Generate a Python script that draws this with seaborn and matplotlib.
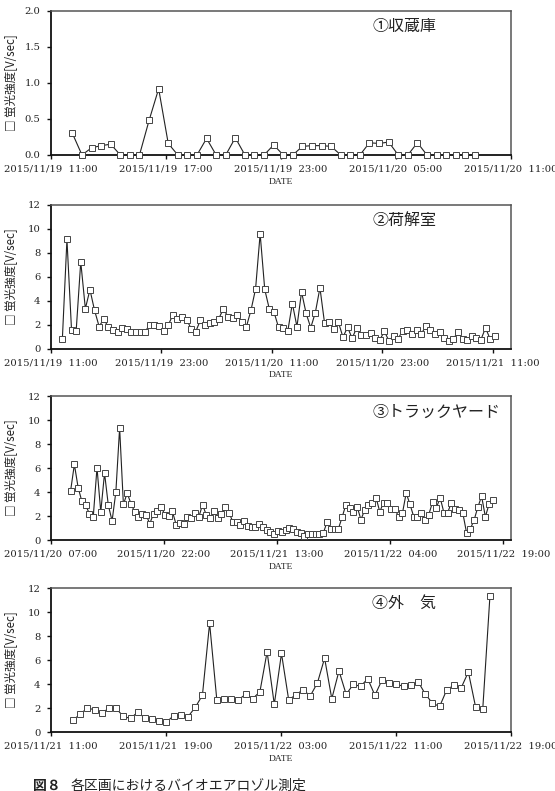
import pandas as pd
import matplotlib
matplotlib.use("Agg")
import matplotlib.pyplot as plt
import seaborn as sns

# --- data (30 min sampling) ---
p1_start = "2015-11-19 12:07"
p1_vals = [0.30, 0.00, 0.10, 0.13, 0.15, 0.00, 0.00, 0.00, 0.48, 0.92,
           0.16, 0.00, 0.00, 0.00, 0.23, 0.00, 0.00, 0.24, 0.00, 0.00,
           0.00, 0.14, 0.00, 0.00, 0.12, 0.13, 0.13, 0.12, 0.00, 0.00,
           0.00, 0.17, 0.16, 0.18, 0.00, 0.00, 0.17, 0.00, 0.00, 0.00,
           0.00, 0.00, 0.00]

p2_start = "2015-11-19 12:14"
p2_vals = [0.77, 9.09, 1.52, 1.44, 7.23, 3.32, 4.90, 3.18, 1.83, 2.46,
           1.77, 1.52, 1.35, 1.74, 1.63, 1.38, 1.38, 1.38, 1.40, 2.00,
           2.00, 1.88, 1.50, 1.94, 2.77, 2.49, 2.66, 2.41, 1.66, 1.41,
           2.35, 1.96, 2.10, 2.21, 2.49, 3.29, 2.66, 2.52, 2.83, 2.21,
           1.80, 3.18, 4.95, 9.56, 4.92, 3.28, 3.05, 1.76, 1.72, 1.43,
           3.75, 1.82, 4.71, 2.92, 1.73, 3.00, 5.06, 2.12, 2.22, 1.60,
           2.20, 0.95, 1.76, 0.86, 1.73, 1.15, 1.15, 1.33, 0.84, 0.71,
           1.42, 0.65, 1.05, 0.82, 1.49, 1.54, 1.18, 1.53, 1.18, 1.87,
           1.53, 1.24, 1.40, 0.87, 0.65, 0.82, 1.35, 0.82, 0.75, 1.08,
           0.84, 0.75, 1.71, 0.79, 1.08]

p3_start = "2015-11-20 09:36"
p3_vals = [4.10, 6.30, 4.36, 3.21, 2.90, 2.18, 1.91, 6.02, 2.34, 5.58,
           2.90, 1.59, 4.00, 9.34, 2.96, 3.90, 3.04, 2.34, 1.90, 2.17,
           2.09, 1.37, 2.19, 2.45, 2.74, 2.12, 2.02, 2.38, 1.27, 1.45,
           1.36, 1.91, 1.83, 2.28, 1.92, 2.94, 2.07, 1.84, 2.38, 1.87,
           2.13, 2.79, 2.28, 1.54, 1.52, 1.21, 1.62, 1.14, 1.08, 1.08,
           1.36, 1.10, 0.84, 0.70, 0.54, 0.74, 0.65, 0.80, 1.00, 0.95,
           0.70, 0.55, 0.35, 0.50, 0.50, 0.50, 0.50, 0.55, 1.50, 0.92,
           0.92, 0.92, 1.88, 2.95, 2.70, 2.36, 2.77, 1.70, 2.50, 2.92,
           3.10, 3.53, 2.36, 3.12, 3.05, 2.62, 2.59, 1.93, 2.22, 3.91,
           2.98, 1.95, 1.95, 2.27, 1.63, 2.12, 3.17, 2.67, 3.54, 2.29,
           2.29, 3.12, 2.61, 2.49, 2.28, 0.62, 0.92, 1.65, 2.73, 3.65,
           1.94, 3.00, 3.30]

p4_start = "2015-11-21 12:32"
p4_vals = [0.99, 1.49, 2.00, 1.85, 1.55, 2.00, 1.96, 1.30, 1.13, 1.66,
           1.16, 1.05, 0.90, 0.82, 1.37, 1.38, 1.28, 2.05, 3.06, 9.06,
           2.70, 2.78, 2.76, 2.69, 3.13, 2.78, 3.36, 6.68, 2.30, 6.55,
           2.69, 3.09, 3.53, 3.00, 4.09, 6.15, 2.77, 5.09, 3.14, 3.97,
           3.80, 4.44, 3.06, 4.35, 4.09, 3.98, 3.80, 3.89, 4.20, 3.17,
           2.40, 2.13, 3.52, 3.90, 3.68, 5.00, 2.11, 1.88, 11.30]

titles = ["①収蔵庫", "②荷解室", "③トラックヤード", "④外　気"]

p1_ticks = ["2015-11-19 11:00", "2015-11-19 17:00", "2015-11-19 23:00",
            "2015-11-20 05:00", "2015-11-20 11:00"]
p2_ticks = ["2015-11-19 11:00", "2015-11-19 23:00", "2015-11-20 11:00",
            "2015-11-20 23:00", "2015-11-21 11:00"]
p3_ticks = ["2015-11-20 07:00", "2015-11-20 22:00", "2015-11-21 13:00",
            "2015-11-22 04:00", "2015-11-22 19:00"]
p4_ticks = ["2015-11-21 11:00", "2015-11-21 19:00", "2015-11-22 03:00",
            "2015-11-22 11:00", "2015-11-22 19:00"]

p1_xlim = ("2015-11-19 11:00", "2015-11-20 11:00")
p2_xlim = ("2015-11-19 11:00", "2015-11-21 13:00")
p3_xlim = ("2015-11-20 07:00", "2015-11-22 20:00")
p4_xlim = ("2015-11-21 11:00", "2015-11-22 19:00")

y_ticks_small = [0.0, 0.5, 1.0, 1.5, 2.0]
y_ticks_big = [0, 2, 4, 6, 8, 10, 12]

panels = [
    (p1_start, p1_vals, p1_ticks, p1_xlim, y_ticks_small, "{:.1f}"),
    (p2_start, p2_vals, p2_ticks, p2_xlim, y_ticks_big, "{:d}"),
    (p3_start, p3_vals, p3_ticks, p3_xlim, y_ticks_big, "{:d}"),
    (p4_start, p4_vals, p4_ticks, p4_xlim, y_ticks_big, "{:d}"),
]

sns.set_style("ticks")
plt.rcParams["font.family"] = ["DejaVu Serif", "Noto Sans CJK JP"]
JP = ["Noto Sans CJK JP", "DejaVu Sans"]
TXT = "#222222"

fig = plt.figure(figsize=(5.55, 7.91), dpi=100)
W, H = 555.0, 791.0
left, width = 51 / W, 460 / W
tops = [11, 204.5, 396, 588]
ph = 144

for i, (start, vals, ticks, xlim, yt, fmt) in enumerate(panels):
    top = tops[i]
    ax = fig.add_axes([left, 1 - (top + ph) / H, width, ph / H])
    df = pd.DataFrame({
        "time": pd.date_range(start, periods=len(vals), freq="30min"),
        "val": vals,
    })
    sns.lineplot(data=df, x="time", y="val", ax=ax, color="#222222",
                 linewidth=0.8, marker="s", markersize=4.5,
                 markerfacecolor="white", markeredgecolor="#444444",
                 markeredgewidth=0.7, clip_on=False, zorder=3)

    ax.set_xlim(pd.Timestamp(xlim[0]), pd.Timestamp(xlim[1]))
    ax.set_ylim(yt[0], yt[-1])
    tick_ts = [pd.Timestamp(t) for t in ticks]
    ax.set_xticks(tick_ts)
    ax.set_xticklabels([t.strftime("%Y/%m/%d  %H:%M") for t in tick_ts],
                       fontsize=7.2, color=TXT)
    ax.set_yticks(yt)
    ax.set_yticklabels([fmt.format(v) for v in yt], fontsize=7.2, color=TXT)
    ax.tick_params(axis="both", direction="out", length=3, width=1.0,
                   color="#111111")
    ax.tick_params(axis="y", pad=4.5)
    ax.tick_params(axis="x", pad=4)

    for side in ["left", "bottom"]:
        ax.spines[side].set_color("#111111")
        ax.spines[side].set_linewidth(1.3)
    for side in ["top", "right"]:
        ax.spines[side].set_color("#555555")
        ax.spines[side].set_linewidth(1.1)

    ax.set_xlabel("DATE", fontsize=6.8, color=TXT, family="Liberation Serif",
                  labelpad=3)
    ax.set_ylabel("□ 蛍光強度[V/sec]", fontsize=8.3, color=TXT, family=JP)
    ax.yaxis.set_label_coords(-0.074, 0.5)

    ax.text(0.698, 0.89, titles[i], transform=ax.transAxes, fontsize=11.5,
            family=JP, color=TXT, ha="left", va="center")

# caption at the bottom, cut by the page edge as in the source
fig.text(33.5 / W, 1 - 779 / H, "図８", fontsize=10, family=JP,
         fontweight="bold", color=TXT, ha="left", va="top")
fig.text(70.5 / W, 1 - 779 / H, "各区画におけるバイオエアロゾル測定",
         fontsize=10, family=JP, color=TXT, ha="left", va="top")

fig.savefig("out.png", dpi=100, facecolor="white")
